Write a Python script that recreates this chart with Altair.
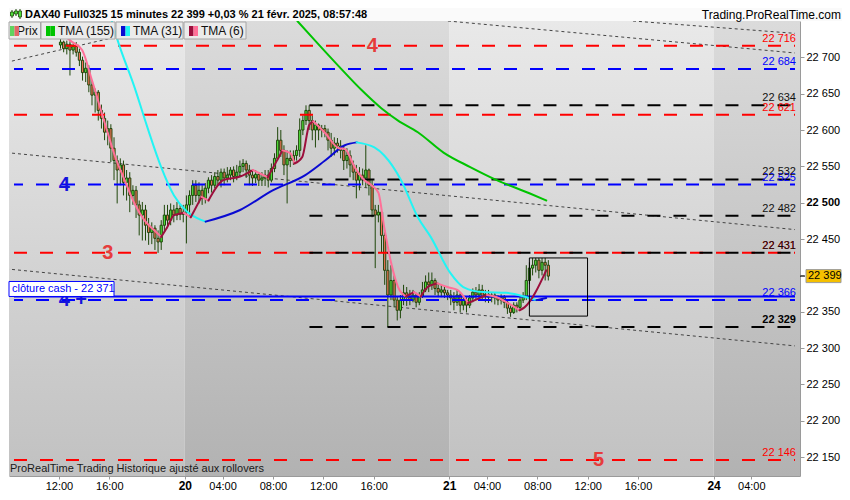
import altair as alt
import pandas as pd

# ---------------- data ----------------
# time axis: trading hours 01:00-22:00 are laid end to end; t = trading hours since 20 Feb 01:00
d19_start, d20_start, d21_start = -10.0, 0.0, 21.0     # 19 Feb 12:00, 20 Feb 01:00, 21 Feb 01:00
bar_hours = 0.25                                       # 15-minute bars

d19_open = [22717,22721,22712,22718,22710,22715,22707,22696,22679,22685,22662,22648,22652,22627,22616,22597,22602,22575,22558,22545,
            22552,22528,22534,22510,22517,22497,22483,22490,22469,22459,22465,22451,22446,22469,22483,22476,22490,22483,22492,22484]
d19_close = [22721,22712,22718,22710,22715,22707,22696,22679,22685,22662,22648,22652,22627,22616,22597,22602,22575,22558,22545,22552,
             22528,22534,22510,22517,22497,22483,22490,22469,22459,22465,22451,22446,22469,22483,22476,22490,22483,22492,22484,22487]
d19_high = [22726,22723,22723,22722,22719,22721,22712,22701,22693,22689,22668,22657,22655,22635,22624,22613,22608,22590,22565,22561,
            22558,22545,22542,22524,22523,22503,22501,22497,22479,22473,22469,22462,22476,22497,22497,22499,22497,22501,22497,22497]
d19_low = [22712,22707,22704,22675,22704,22701,22688,22668,22666,22652,22634,22624,22613,22602,22586,22579,22556,22531,22499,22524,
           22510,22503,22487,22497,22479,22455,22448,22448,22442,22443,22435,22431,22435,22459,22465,22469,22473,22476,22476,22473]

d20_open = [22487,22497,22510,22524,22510,22517,22506,22520,22531,22524,
            22536,22531,22542,22534,22538,22545,22536,22542,22550,22554,
            22545,22538,22534,22539,22531,22534,22538,22531,22547,22561,
            22586,22572,22552,22561,22558,22565,22572,22600,22613,22627,
            22613,22600,22607,22600,22602,22597,22586,22575,22582,22578,
            22572,22558,22565,22552,22542,22531,22538,22534,22545,22524,
            22490,22483,22487,22455,22407,22373,22393,22366,22352,22366,
            22376,22370,22366,22373,22363,22371,22380,22391,22387,22393,
            22382,22377,22380,22376]
d20_close = [22497,22510,22524,22510,22517,22506,22520,22531,22524,22536,
             22531,22542,22534,22538,22545,22536,22542,22550,22554,22545,
             22538,22534,22539,22531,22534,22538,22531,22547,22561,22586,
             22572,22552,22561,22558,22565,22572,22600,22613,22627,22613,
             22600,22607,22600,22602,22597,22586,22575,22582,22578,22572,
             22558,22565,22552,22542,22531,22538,22534,22545,22524,22490,
             22483,22487,22455,22407,22373,22393,22366,22352,22366,22376,
             22370,22366,22373,22363,22371,22380,22391,22387,22393,22382,
             22377,22380,22376,22373]
d20_high = [22510,22517,22531,22531,22528,22524,22527,22535,22538,22542,
            22545,22547,22547,22549,22549,22550,22552,22558,22560,22558,
            22552,22545,22545,22542,22542,22545,22545,22554,22568,22604,
            22600,22579,22572,22572,22572,22579,22616,22620,22634,22634,
            22620,22613,22609,22607,22607,22602,22596,22590,22589,22586,
            22579,22575,22572,22558,22552,22549,22547,22579,22547,22531,
            22497,22497,22492,22462,22421,22414,22400,22371,22373,22387,
            22384,22380,22380,22376,22377,22391,22400,22404,22404,22396,
            22388,22387,22384,22380]
d20_low = [22444,22480,22497,22501,22499,22497,22499,22513,22514,22520,
           22524,22521,22524,22528,22531,22528,22531,22536,22542,22534,
           22524,22523,22527,22523,22523,22523,22521,22528,22542,22558,
           22563,22538,22499,22549,22552,22558,22563,22593,22607,22600,
           22586,22576,22586,22590,22590,22572,22563,22565,22569,22561,
           22545,22547,22535,22531,22506,22517,22524,22521,22510,22480,
           22410,22473,22431,22387,22329,22366,22356,22338,22341,22359,
           22358,22359,22363,22356,22359,22369,22377,22377,22380,22373,
           22370,22370,22369,22366]

d21_open = [22373,22369,22363,22373,22359,22366,22359,22369,22377,22373,22380,22371,22374,22370,22373,22369,
            22366,22370,22363,22355,22349,22359,22356,22366,22371,22393,22410,22414,22421,22407,22418,22414]
d21_close = [22369,22363,22373,22359,22366,22359,22369,22377,22373,22380,22371,22374,22370,22373,22369,22366,
             22370,22363,22355,22349,22359,22356,22366,22371,22393,22410,22414,22421,22407,22418,22414,22399]
d21_high = [22380,22377,22380,22377,22373,22370,22373,22382,22384,22388,22387,22380,22380,22377,22376,22373,
            22374,22373,22366,22359,22363,22363,22371,22377,22414,22418,22424,22424,22424,22424,22424,22421]
d21_low = [22359,22352,22358,22349,22352,22349,22355,22363,22366,22369,22366,22363,22362,22363,22360,22359,
           22360,22355,22347,22343,22347,22349,22352,22362,22366,22388,22400,22404,22396,22400,22393,22393]

# moving averages
tma155_t = [8.94, 10.35, 12.16, 14.04, 15.61, 16.94, 18.51, 20.55, 22.67, 24.78, 27.37, 28.71]
tma155_p = [22750, 22723, 22689, 22655, 22630, 22613, 22597, 22569, 22549, 22531, 22513, 22503]

tma31_t = [-5.80, -5.33, -4.0, -2.98, -1.88, -0.86, 0.16, 0.94, 1.65, 4.39, 6.98, 9.57, 11.14, 12.71, 13.65,
           15.06, 15.84, 17.18, 18.51, 19.53, 21.10, 22.12, 23.69, 25.57, 27.14, 27.92, 28.71]
tma31_p = [22750, 22723, 22659, 22604, 22549, 22510, 22488, 22479, 22474, 22490, 22517, 22538, 22558, 22579, 22583,
           22576, 22565, 22531, 22480, 22453, 22403, 22384, 22377, 22376, 22370, 22366, 22369]

tma6_t = [-9.49, -9.10, -8.16, -7.37, -6.35, -5.57, -4.78, -4.0, -3.22, -2.43, -1.88, -1.41, -0.86, -0.08, 0.47,
          1.33, 1.88, 3.06, 4.39, 5.41, 6.59, 7.76, 8.39, 8.71, 9.33, 9.88, 10.20, 11.14, 12.24, 12.71, 13.49,
          14.27, 14.82, 15.37, 15.84, 16.39, 16.94, 17.57, 18.20, 18.75, 19.29, 20.08, 20.86, 21.65, 22.51, 23.45,
          24.0, 24.78, 25.57, 26.59, 26.98, 28.71]
tma6_p = [22729, 22723, 22710, 22668, 22609, 22565, 22531, 22499, 22476, 22462, 22453, 22466, 22483, 22486, 22480,
          22508, 22503, 22531, 22536, 22545, 22535, 22572, 22568, 22554, 22563, 22607, 22612, 22596, 22575, 22574, 22549,
          22531, 22524, 22514, 22466, 22417, 22384, 22371, 22377, 22371, 22384, 22389, 22384, 22380, 22362, 22369,
          22373, 22370, 22363, 22352, 22356, 22407]

# horizontal levels
red_levels = [22716, 22621, 22431, 22146]
blue_levels = [22684, 22525, 22366]
black_levels = [22634, 22532, 22482, 22431, 22329]
black_bold_levels = [22329]
black_start = 9.9
cash_close = 22371

# dotted trend lines (two points each)
trend_id = ["a", "a", "b", "b", "c", "c", "d", "d", "e", "e"]
trend_t = [-14.20, -5.96, 20.9, 48.47, 35.6, 48.47, -14.20, 48.47, -14.20, 48.47]
trend_p = [22693, 22726, 22750, 22706, 22750, 22733, 22569, 22463, 22409, 22303]

# user rectangle
box_t = [27.37, 31.99]
box_p = [22344, 22424]

# wave numbers
red_num_text = ["4", "3", "5"]
red_num_t = [14.9, -6.12, 32.86]
red_num_p = [22716, 22431, 22146]
blue_num_text = ["4", "4", "+"]
blue_num_t = [-9.57, -9.57, -8.24]
blue_num_p = [22525, 22366, 22366]

# axes
day_bounds = [-21, 0, 21, 42, 63]
tick_t = [-10, -6, 0, 3, 7, 11, 15, 21, 24, 28, 32, 36, 42, 45]
tick_lab = ["12:00", "16:00", "20", "04:00", "08:00", "12:00", "16:00", "21", "04:00", "08:00",
            "12:00", "16:00", "24", "04:00"]
day_ticks = [0, 21, 42]
y_ticks = [22150, 22200, 22250, 22300, 22350, 22400, 22450, 22500, 22550, 22600, 22650, 22700]

title_text = "DAX40 Full0325 15 minutes 22 399 +0,03 % 21 févr. 2025, 08:57:48"

# ---------------- build ----------------
FONT = "Liberation Sans"
W, H = 791, 455
X_DOM = [-13.57, 48.47]
Y_DOM = [22124, 22750]
xscale = alt.Scale(domain=X_DOM, nice=False, zero=False)
yscale = alt.Scale(domain=Y_DOM, nice=False, zero=False)

RED, BLUE, BLACK = "#ff0000", "#0000ff", "#000000"
OUTLINE, UP, DOWN = "#1f470b", "#4fe03a", "#ee7056"


def fmt(p):
    return f"{p:,}".replace(",", " ")


day_test = " || ".join(f"datum.value == {d}" for d in day_ticks)
x_expr = "''"
for tv, lab in reversed(list(zip(tick_t, tick_lab))):
    x_expr = f"datum.value == {tv} ? '{lab}' : ({x_expr})"

x_axis = alt.Axis(values=tick_t, labelExpr=x_expr, title=None, grid=False, tickSize=3,
                  tickColor="#9a9a9a", domainColor="#9a9a9a", labelPadding=1, labelColor="#000000",
                  labelFont=FONT, labelFlush=False, labelOverlap=False,
                  labelFontSize={"condition": {"test": day_test, "value": 12}, "value": 11},
                  labelFontWeight={"condition": {"test": day_test, "value": "bold"}, "value": "normal"})
y_axis = alt.Axis(orient="right", values=y_ticks, title=None, grid=False, tickSize=4,
                  labelExpr="replace(format(datum.value, ','), ',', ' ')",
                  tickColor="#9a9a9a", domainColor="#9a9a9a", labelPadding=2, labelColor="#000000",
                  labelFont=FONT, labelFontSize=11,
                  labelFontWeight={"condition": {"test": "datum.value == 22500", "value": "bold"}, "value": "normal"})


def xq(field):
    return alt.X(f"{field}:Q", scale=xscale, axis=x_axis)


def yq(field):
    return alt.Y(f"{field}:Q", scale=yscale, axis=y_axis)


def ydat(v):
    return alt.YDatum(v, scale=yscale, axis=y_axis)


rows = []
for start, o, h, l, c in [(d19_start, d19_open, d19_high, d19_low, d19_close),
                          (d20_start, d20_open, d20_high, d20_low, d20_close),
                          (d21_start, d21_open, d21_high, d21_low, d21_close)]:
    for i in range(len(o)):
        rows.append(dict(t=start + (i + 0.5) * bar_hours, open=o[i], high=h[i], low=l[i], close=c[i]))
candles = pd.DataFrame(rows)

layers = []

# background day bands
def grad(top, bottom):
    return alt.LinearGradient(gradient="linear", x1=0, x2=0, y1=0, y2=1,
                              stops=[alt.GradientStop(color=top, offset=0), alt.GradientStop(color=bottom, offset=1)])

light = pd.DataFrame({"t0": [day_bounds[0], day_bounds[2]], "t1": [day_bounds[1], day_bounds[3]]})
dark = pd.DataFrame({"t0": [day_bounds[1], day_bounds[3]], "t1": [day_bounds[2], day_bounds[4]]})
layers.append(alt.Chart(light).mark_rect(fill=grad("#e9e9e9", "#c1c1c1"), clip=True).encode(
    x=xq("t0"), x2="t1", y=alt.value(0), y2=alt.value(H)))
layers.append(alt.Chart(dark).mark_rect(fill=grad("#dbdbdb", "#b2b2b2"), clip=True).encode(
    x=xq("t0"), x2="t1", y=alt.value(0), y2=alt.value(H)))

# dotted trend lines
trend = pd.DataFrame({"id": trend_id, "t": trend_t, "price": trend_p})
layers.append(alt.Chart(trend).mark_line(color="#444444", strokeWidth=1, strokeDash=[3, 3], clip=True).encode(
    x=xq("t"), y=yq("price"), detail="id:N"))

# candles
layers.append(alt.Chart(candles).mark_rule(color=OUTLINE, strokeWidth=1).encode(
    x=xq("t"), y=yq("low"), y2="high"))
layers.append(alt.Chart(candles).mark_bar(width=2.2, stroke=OUTLINE, strokeWidth=1).encode(
    x=xq("t"), y=yq("open"), y2="close",
    fill=alt.condition("datum.close >= datum.open", alt.value(UP), alt.value(DOWN))))

# level lines
def level_layer(levels, color, start, dash=True, offset=0):
    df = pd.DataFrame({"price": levels, "t0": [start] * len(levels), "t1": [X_DOM[1]] * len(levels)})
    kw = dict(color=color, strokeWidth=2, clip=True)
    if dash:
        kw["strokeDash"] = [13, 13]
        kw["strokeDashOffset"] = offset
    return alt.Chart(df).mark_rule(**kw).encode(x=xq("t0"), x2="t1", y=yq("price"))

layers.append(level_layer(red_levels, RED, X_DOM[0]))
layers.append(level_layer(blue_levels, BLUE, X_DOM[0], offset=4))
layers.append(level_layer(black_levels, BLACK, black_start, offset=0))
layers.append(level_layer([cash_close], BLUE, X_DOM[0], dash=False))

# moving averages, coloured by direction (dark = rising, light = falling)
def ma_df(ts, ps, up_col, down_col):
    out, seg, prev = [], 0, None
    for i in range(1, len(ts)):
        d = up_col if ps[i] >= ps[i - 1] else down_col
        if d != prev:
            seg += 1
            out.append(dict(seg=seg, t=ts[i - 1], price=ps[i - 1], col=d))
            prev = d
        out.append(dict(seg=seg, t=ts[i], price=ps[i], col=d))
    return pd.DataFrame(out)

def ma_layer(ts, ps, up_col, down_col):
    return alt.Chart(ma_df(ts, ps, up_col, down_col)).mark_line(
        strokeWidth=2, clip=True, interpolate="monotone", strokeCap="round").encode(
        x=xq("t"), y=yq("price"), detail="seg:N", color=alt.Color("col:N", scale=None))

layers.append(ma_layer(tma155_t, tma155_p, "#00c400", "#00c400"))
layers.append(ma_layer(tma31_t, tma31_p, "#0a0ad2", "#22f4f4"))
layers.append(ma_layer(tma6_t, tma6_p, "#9c0f3c", "#ff7098"))

# user rectangle
boxdf = pd.DataFrame({"t0": [box_t[0]], "t1": [box_t[1]], "p0": [box_p[0]], "p1": [box_p[1]]})
layers.append(alt.Chart(boxdf).mark_rect(fillOpacity=0, stroke=BLACK, strokeWidth=1).encode(
    x=xq("t0"), x2="t1", y=yq("p0"), y2="p1"))

# level labels at right edge
def label_layer(levels, color, bold=False):
    df = pd.DataFrame({"price": levels, "label": [fmt(p) for p in levels]})
    return alt.Chart(df).mark_text(align="right", baseline="middle", dy=-7, fontSize=11, color=color,
                                   fontWeight="bold" if bold else "normal").encode(
        x=alt.value(787), y=yq("price"), text="label:N")

layers.append(label_layer(red_levels, RED))
layers.append(label_layer(blue_levels, BLUE))
layers.append(label_layer([p for p in black_levels if p not in black_bold_levels], "#111111"))
layers.append(label_layer(black_bold_levels, BLACK, bold=True))

# wave numbers
def num_layer(texts, ts, ps, color):
    df = pd.DataFrame({"s": texts, "t": ts, "price": ps})
    return alt.Chart(df).mark_text(fontSize=20, fontWeight="bold", color=color, baseline="middle", align="center").encode(
        x=xq("t"), y=yq("price"), text="s:N")

layers.append(num_layer(red_num_text, red_num_t, red_num_p, "#e63c3c"))
layers.append(num_layer(blue_num_text, blue_num_t, blue_num_p, "#1414dc"))

# decorations (pixel-placed)
dummy = pd.DataFrame({"k": [0]})

def vrect(x1, x2, y1, y2, **kw):
    return alt.Chart(dummy).mark_rect(**kw).encode(x=alt.value(x1), x2=alt.value(x2), y=alt.value(y1), y2=alt.value(y2))

def vtext(x, y, s, **kw):
    return alt.Chart(dummy).mark_text(text=s, **kw).encode(x=alt.value(x), y=alt.value(y))

def vrule(x1, x2, y1, y2, **kw):
    return alt.Chart(dummy).mark_rule(**kw).encode(x=alt.value(x1), x2=alt.value(x2), y=alt.value(y1), y2=alt.value(y2))

# "clôture cash" box
layers.append(alt.Chart(dummy).mark_rect(fill="#ffffff", stroke=BLUE, strokeWidth=1, yOffset=-15).encode(
    x=alt.value(0), x2=alt.value(105), y=ydat(cash_close), y2=alt.Y2Datum(cash_close)))
layers.append(alt.Chart(dummy).mark_text(text="clôture cash -  " + fmt(cash_close), align="left", baseline="middle",
                                         dy=-7.5, fontSize=11, color=BLUE).encode(
    x=alt.value(3), y=ydat(cash_close)))

# last price flag on the axis
last = d21_close[-1]
layers.append(alt.Chart(dummy).mark_rect(fill="#f5c000", stroke="#9a9a9a", strokeWidth=1, yOffset=-6.5, y2Offset=6.5).encode(
    x=alt.value(797), x2=alt.value(832), y=ydat(last), y2=alt.Y2Datum(last)))
layers.append(alt.Chart(dummy).mark_text(text=fmt(last), align="left", baseline="middle", fontSize=11, color=BLACK).encode(
    x=alt.value(799), y=ydat(last)))
layers.append(alt.Chart(dummy).mark_rule(color=BLACK, strokeWidth=1).encode(
    x=alt.value(791), x2=alt.value(796), y=ydat(last)))

# footer text inside plot
layers.append(vtext(1, 448, "ProRealTime Trading  Historique ajusté aux rollovers", align="left", baseline="middle",
                    fontSize=11, color="#1a1a1a"))

# title bar
layers.append(vrect(0, 833, -13, 0, fill="#fafafa"))
for cx, wy1, wy2, by1, by2 in [(3, -11, -3, -9, -5), (7, -12, -5, -10, -7), (11, -12, -2, -10, -4)]:
    layers.append(vrule(cx, cx, wy1, wy2, color=OUTLINE, strokeWidth=1))
    layers.append(vrect(cx - 1.5, cx + 1.5, by1, by2, fill=UP, stroke=OUTLINE, strokeWidth=0.8))
layers.append(vtext(16, -6, title_text, align="left", baseline="middle", fontSize=11, fontWeight="bold", color=BLACK))
layers.append(vtext(832, -6, "Trading.ProRealTime.com", align="right", baseline="middle", fontSize=12, color=BLACK))

# legend row
legend_items = [("Prix", 0, 31.5, "#5fd35f", "#e06666", 8, True),
                ("TMA (155)", 32, 106, "#00c400", "#00c400", 49, False),
                ("TMA (31)", 107, 174, "#0a0ad2", "#22f4f4", 124, False),
                ("TMA (6)", 175, 237, "#9c0f3c", "#ff7098", 192, False)]
for name, bx1, bx2, c1, c2, tx, icon_over in legend_items:
    layers.append(vrect(bx1, bx2, 1, 18, fill="#ebebeb", stroke="#a6a6a6", strokeWidth=1))
    ix = bx1 + (0 if icon_over else 4)
    if icon_over:
        layers.append(vtext(tx, 10, name, align="left", baseline="middle", fontSize=12, color="#111111"))
    layers.append(vrect(ix + 1, ix + 5.5, 5, 15, fill=c1))
    layers.append(vrect(ix + 5.5, ix + 10, 5, 15, fill=c2))
    if not icon_over:
        layers.append(vtext(tx, 10, name, align="left", baseline="middle", fontSize=12, color="#111111"))

chart = alt.layer(*layers).properties(width=W, height=H, padding=0).configure(font=FONT).configure_view(strokeWidth=0)

chart.save("out.html", embed_options={"renderer": "svg", "actions": False})
